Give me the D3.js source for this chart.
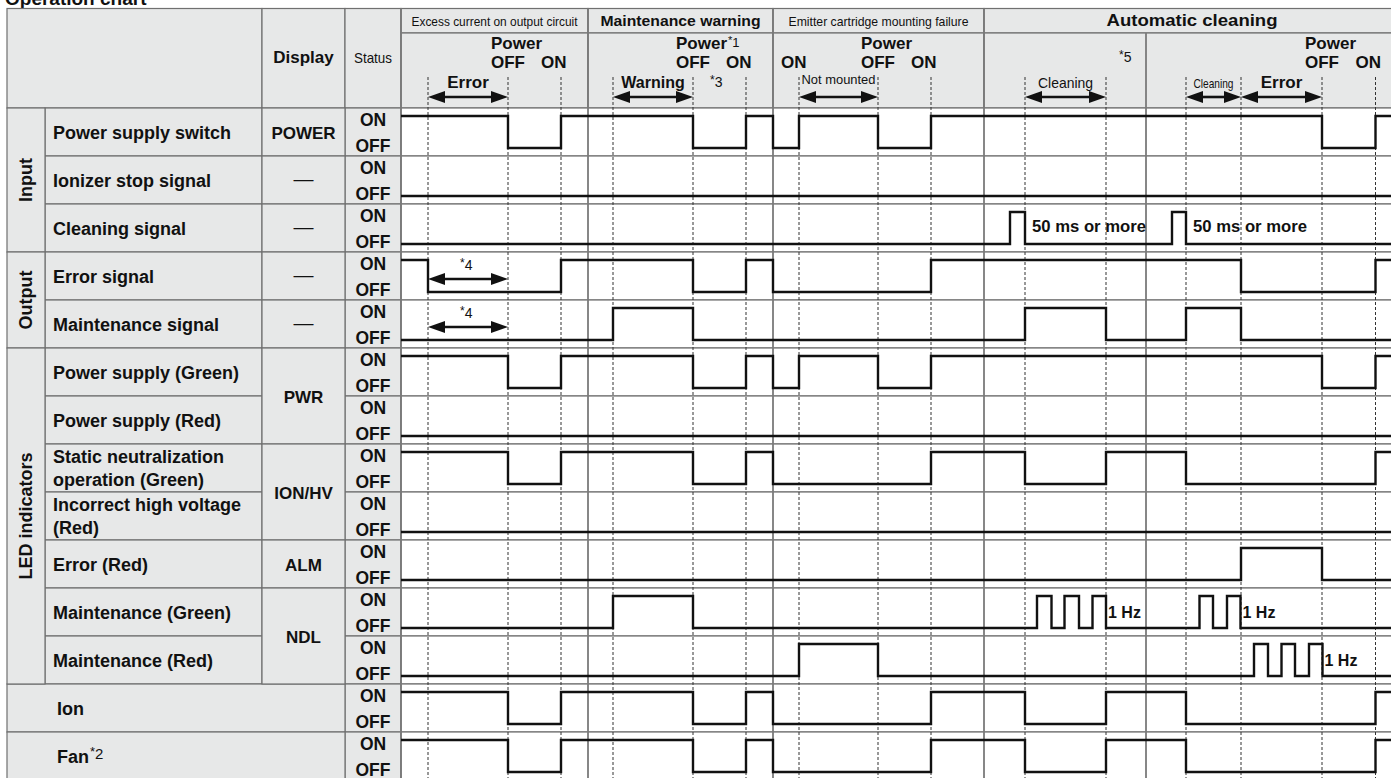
<!DOCTYPE html>
<html><head><meta charset="utf-8">
<script src="https://cdn.jsdelivr.net/npm/d3@7/dist/d3.min.js"></script>
<style>
html,body{margin:0;padding:0;background:#fff;}
svg{display:block;}
text{font-family:"Liberation Sans",Arial,Helvetica,sans-serif;fill:#111;}
tspan{fill:#111;}
</style></head><body>
<svg id="chart" width="1391" height="778"></svg>
<script>
// ---------------- DATA ----------------
const chartTitle = "Operation chart";
const sectionTitles = ["Excess current on output circuit", "Maintenance warning", "Emitter cartridge mounting failure", "Automatic cleaning"];
const sectionStarts = [0, 187, 372, 583];
const sectionEndTime = 999;
const subSectionStarts = [745];
const timeEnd = 990;

const groupLabels = ["Input", "Output", "LED indicators"];
const groupRows = [[0, 2], [3, 4], [5, 11]];

const signalNames = ["Power supply switch", "Ionizer stop signal", "Cleaning signal", "Error signal", "Maintenance signal",
  "Power supply (Green)", "Power supply (Red)", "Static neutralization\noperation (Green)", "Incorrect high voltage\n(Red)",
  "Error (Red)", "Maintenance (Green)", "Maintenance (Red)", "Ion", "Fan"];
const displayNames = ["POWER", "—", "—", "—", "—", "PWR", "ION/HV", "ALM", "NDL"];
const displayRows = [[0, 0], [1, 1], [2, 2], [3, 3], [4, 4], [5, 6], [7, 8], [9, 9], [10, 11]];
const statusLabels = ["ON", "OFF"];
const headerColumns = ["Display", "Status"];

// signal transitions: [time, level(1=ON,0=OFF)]
const powerSwitch = [[0,1],[107,0],[160,1],[292,0],[345,1],[372,0],[398,1],[477,0],[530,1],[921,0],[974.5,1]];
const ionizerStop = [[0,0]];
const cleaningSignal = [[0,0],[609,1],[624,0],[771,1],[785,0]];
const errorSignal = [[0,1],[27,0],[160,1],[292,0],[345,1],[372,0],[530,1],[840,0],[974.5,1]];
const maintenanceSignal = [[0,0],[212,1],[292,0],[624,1],[705,0],[785,1],[840,0]];
const powerGreen = [[0,1],[107,0],[160,1],[292,0],[345,1],[372,0],[398,1],[477,0],[530,1],[921,0],[974.5,1]];
const powerRed = [[0,0]];
const staticGreen = [[0,1],[107,0],[160,1],[292,0],[345,1],[372,0],[530,1],[624,0],[705,1],[785,0],[974.5,1]];
const highVoltageRed = [[0,0]];
const errorRed = [[0,0],[840,1],[921,0]];
const maintenanceGreen = [[0,0],[212,1],[292,0],[636,1],[650.5,0],[663.5,1],[678,0],[691.5,1],[705,0],[798.5,1],[812,0],[826,1],[839.5,0]];
const maintenanceRed = [[0,0],[398,1],[477,0],[853,1],[867,0],[880.5,1],[894,0],[908,1],[921.5,0]];
const ionOutput = [[0,1],[107,0],[160,1],[292,0],[345,1],[372,0],[530,1],[624,0],[705,1],[785,0],[974.5,1]];
const fanOutput = [[0,1],[107,0],[160,1],[292,0],[345,1],[372,0],[530,1],[624,0],[705,1],[785,0],[974.5,1]];
const signals = [powerSwitch, ionizerStop, cleaningSignal, errorSignal, maintenanceSignal, powerGreen, powerRed,
  staticGreen, highVoltageRed, errorRed, maintenanceGreen, maintenanceRed, ionOutput, fanOutput];

const dashTimes = [27, 107, 160, 212, 292, 345, 398, 477, 530, 624, 705, 785, 840, 921, 974.5];
const powerCycles = [[107, 160], [292, 345], [477, 530], [921, 974.5]];
const powerFootnotes = ["", "*1", "", ""];
const extraOnTimes = [398];
const headerArrows = [[27, 107, "Error"], [212, 292, "Warning"], [398, 477, "Not mounted"], [624, 705, "Cleaning"], [785, 840, "Cleaning"], [840, 921, "Error"]];
const rowArrows = [[3, 27, 107, "*4"], [4, 27, 107, "*4"]];
const pulseNotes = [[2, 624, "50 ms or more"], [2, 785, "50 ms or more"], [10, 705, "1 Hz"], [10, 839.5, "1 Hz"], [11, 921.5, "1 Hz"]];
const headerNotes = [[309, "*3"], [718, "*5"]];
const fanFootnote = "*2";

// ---------------- LAYOUT ----------------
const svg = d3.select("#chart");
const GRAY = "#e7e8e8", LINE = "#707070", INK = "#111";
const X0 = 7, XG = 45, XD = 262, XS = 345, XW = 401, XR = 1400;
const Y0 = 8.5, YSUB = 33, YHEAD = 108, YBOT = 780;
const nRows = signals.length;
const x = d3.scaleLinear().domain([0, timeEnd]).range([XW, 1391]);
const rowY = d3.scaleLinear().domain([0, nRows]).range([YHEAD, YBOT]);
const rowH = rowY(1) - rowY(0);
const levelY = (r, v) => rowY(r) + (v ? 8 : 40);
const bold = "bold";

svg.append("rect").attr("width", 1391).attr("height", 778).attr("fill", "#fff");

// title (partly cut off at the top, as in the source page)
svg.append("text").attr("x", 5).attr("y", 4.5).attr("font-size", 19).attr("font-weight", bold).text(chartTitle);

function cell(x0, y0, w, h, fill) {
  svg.append("rect").attr("x", x0).attr("y", y0).attr("width", w).attr("height", h)
    .attr("fill", fill).attr("stroke", LINE).attr("stroke-width", 1.2);
}

// header cells
cell(X0, Y0, XD - X0, YHEAD - Y0, GRAY);
cell(XD, Y0, XS - XD, YHEAD - Y0, GRAY);
cell(XS, Y0, XW - XS, YHEAD - Y0, GRAY);
sectionStarts.forEach((s, i) => {
  const e = i < sectionStarts.length - 1 ? sectionStarts[i + 1] : sectionEndTime;
  cell(x(s), Y0, x(e) - x(s), YSUB - Y0, GRAY);
  cell(x(s), YSUB, x(e) - x(s), YHEAD - YSUB, GRAY);
});

// body cells
d3.range(nRows).forEach(r => {
  cell(XS, rowY(r), XW - XS, rowH, GRAY);
  cell(XW, rowY(r), XR - XW, rowH, "#fff");
  const inGroup = groupRows.some(g => r >= g[0] && r <= g[1]);
  if (inGroup) cell(XG, rowY(r), XD - XG, rowH, GRAY);
  else cell(X0, rowY(r), XS - X0, rowH, GRAY);
});
displayRows.forEach(d => cell(XD, rowY(d[0]), XS - XD, rowY(d[1] + 1) - rowY(d[0]), GRAY));
groupRows.forEach(g => cell(X0, rowY(g[0]), XG - X0, rowY(g[1] + 1) - rowY(g[0]), GRAY));

// section vertical lines through the waveform area
const vLines = svg.append("g").attr("stroke", "#7a7a7a").attr("stroke-width", 1.8);
vLines.append("line").attr("x1", XW).attr("x2", XW).attr("y1", Y0).attr("y2", YBOT);
sectionStarts.slice(1).forEach(s => vLines.append("line").attr("x1", x(s)).attr("x2", x(s)).attr("y1", Y0).attr("y2", YBOT));
subSectionStarts.forEach(s => {
  vLines.append("line").attr("x1", x(s)).attr("x2", x(s)).attr("y1", YSUB).attr("y2", YBOT);
});

// dashed event lines
svg.append("g").selectAll("line").data(dashTimes).join("line")
  .attr("x1", d => x(d)).attr("x2", d => x(d)).attr("y1", 77).attr("y2", YBOT)
  .attr("stroke", "#333").attr("stroke-width", 1).attr("stroke-dasharray", "3,2");

// signals
const line = d3.line().curve(d3.curveStepAfter);
signals.forEach((sig, r) => {
  const pts = sig.concat([[timeEnd, sig[sig.length - 1][1]]]).map(d => [x(d[0]), levelY(r, d[1])]);
  svg.append("path").attr("d", line(pts)).attr("fill", "none").attr("stroke", INK)
    .attr("stroke-width", 2.4).attr("stroke-linejoin", "miter");
});

// arrows
function arrow(x0, x1, y) {
  const hl = 17, hh = 6;
  const g = svg.append("g");
  g.append("line").attr("x1", x0 + hl - 2).attr("x2", x1 - hl + 2).attr("y1", y).attr("y2", y)
    .attr("stroke", INK).attr("stroke-width", 2.6);
  g.append("path").attr("d", `M${x0},${y}L${x0 + hl},${y - hh}L${x0 + hl},${y + hh}Z`).attr("fill", INK);
  g.append("path").attr("d", `M${x1},${y}L${x1 - hl},${y - hh}L${x1 - hl},${y + hh}Z`).attr("fill", INK);
}

// ---------------- TEXT ----------------
function txt(xp, yp, s, size, weight, anchor, len) {
  const t = svg.append("text").attr("x", xp).attr("y", yp).attr("font-size", size)
    .attr("font-weight", weight || "normal").attr("text-anchor", anchor || "start").text(s);
  if (len) t.attr("textLength", len).attr("lengthAdjust", "spacingAndGlyphs");
  return t;
}
function footnote(xp, yp, s, size) {
  const t = svg.append("text").attr("x", xp).attr("y", yp).attr("font-size", size);
  t.append("tspan").attr("dy", -3).attr("font-size", size - 2).text(s[0]);
  t.append("tspan").attr("dy", 3).text(s.slice(1));
  return t;
}

// section titles
const titleStyle = [[13, "normal", 166], [15, bold, 160], [13, "normal", 180], [16, bold, 171]];
sectionTitles.forEach((s, i) => {
  const e = i < sectionStarts.length - 1 ? sectionStarts[i + 1] : sectionEndTime;
  const st = titleStyle[i];
  txt((x(sectionStarts[i]) + x(e)) / 2, 26, s, st[0], st[1], "middle", st[2]);
});

// header columns
txt((XD + XS) / 2, 63, headerColumns[0], 17, bold, "middle");
txt((XS + XW) / 2, 63, headerColumns[1], 15, "normal", "middle", 38);

// power OFF/ON annotations
powerCycles.forEach((c, i) => {
  const p = txt(x(c[0]) - 17, 49, "Power", 17, bold, "start");
  if (powerFootnotes[i]) {
    const w = p.node().getComputedTextLength();
    footnote(x(c[0]) - 17 + w + 1, 47, powerFootnotes[i], 13);
  }
  txt(x(c[0]) - 17, 68, "OFF", 17, bold, "start");
  txt(x(c[1]) - 20, 68, "ON", 17, bold, "start");
});
extraOnTimes.forEach(t => txt(x(t) - 18, 68, "ON", 17, bold, "start"));

// header arrows + labels
headerArrows.forEach(a => {
  const x0 = x(a[0]), x1 = x(a[1]), cx = (x0 + x1) / 2;
  arrow(x0, x1, 97);
  if (a[2] === "Error") txt(cx, 88, a[2], 17, bold, "middle");
  else if (a[2] === "Warning") txt(cx, 88, a[2], 16, bold, "middle");
  else if (a[2] === "Not mounted") txt(cx, 84, a[2], 12.5, "normal", "middle", 74);
  else if (x1 - x0 > 60) txt(cx, 88, a[2], 15, "normal", "middle", 55);
  else txt(cx, 88, a[2], 13.5, "normal", "middle", 40);
});
headerNotes.forEach((n, i) => footnote(x(n[0]), i === 0 ? 87 : 62, n[1], 14));

// row arrows
rowArrows.forEach(a => {
  const x0 = x(a[1]), x1 = x(a[2]);
  arrow(x0, x1, rowY(a[0]) + 27);
  footnote((x0 + x1) / 2 - 8, rowY(a[0]) + 18, a[3], 14);
});

// pulse notes
pulseNotes.forEach(n => {
  if (n[2] === "1 Hz") txt(x(n[1]) + 2, rowY(n[0]) + 30, n[2], 16, bold, "start");
  else txt(x(n[1]) + 7, rowY(n[0]) + 28, n[2], 16.5, bold, "start", 114);
});

// group labels (rotated)
groupLabels.forEach((g, i) => {
  const cy = (rowY(groupRows[i][0]) + rowY(groupRows[i][1] + 1)) / 2;
  svg.append("text").attr("transform", `translate(${(X0 + XG) / 2 + 6},${cy}) rotate(-90)`)
    .attr("text-anchor", "middle").attr("font-size", 18).attr("font-weight", bold).text(g);
});

// signal labels
signalNames.forEach((s, r) => {
  const inGroup = groupRows.some(g => r >= g[0] && r <= g[1]);
  const lx = inGroup ? 53 : 57;
  const parts = s.split("\n");
  if (parts.length === 1) {
    const t = txt(lx, rowY(r) + 31, s, 18, bold, "start");
    if (s === "Fan") {
      const w = t.node().getComputedTextLength();
      footnote(lx + w + 1, rowY(r) + 27, fanFootnote, 15);
    }
  } else {
    txt(lx, rowY(r) + 19, parts[0], 18, bold, "start");
    txt(lx, rowY(r) + 42, parts[1], 18, bold, "start");
  }
});

// display names
displayNames.forEach((d, i) => {
  const cy = (rowY(displayRows[i][0]) + rowY(displayRows[i][1] + 1)) / 2;
  if (d === "—") txt((XD + XS) / 2, cy + 6, d, 20, "normal", "middle");
  else txt((XD + XS) / 2, cy + 6.5, d, 17, bold, "middle");
});

// status labels
d3.range(nRows).forEach(r => {
  txt((XS + XW) / 2, rowY(r) + 18, statusLabels[0], 17.5, bold, "middle");
  txt((XS + XW) / 2, rowY(r) + 43.5, statusLabels[1], 17.5, bold, "middle");
});
</script>
</body></html>
